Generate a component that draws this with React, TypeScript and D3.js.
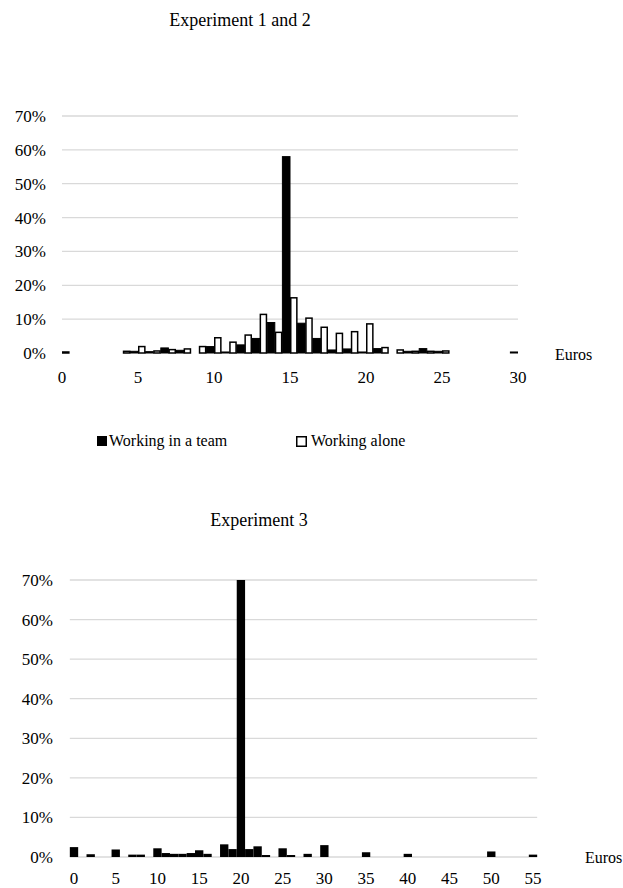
import React from "react";
import * as d3 from "d3";

// ---- Experiment 1 and 2 (percent of subjects per euro amount) ----
const exp12Euros = [0, 1, 2, 3, 4, 5, 6, 7, 8, 9, 10, 11, 12, 13, 14, 15, 16, 17, 18, 19, 20, 21, 22, 23, 24, 25, 26, 27, 28, 29, 30];
const teamPct = [0, 0, 0, 0, 0, 0.5, 0.4, 1.5, 0.8, 0, 1.9, 0.3, 2.4, 4.3, 9.0, 58, 8.8, 4.3, 0.9, 1.2, 0.3, 1.3, 0, 0.5, 1.3, 0.5, 0, 0, 0, 0, 0.3];
const alonePct = [0.3, 0, 0, 0, 0.5, 1.9, 0.6, 1.0, 1.2, 1.9, 4.5, 3.2, 5.3, 11.4, 6.1, 16.3, 10.3, 7.6, 5.8, 6.3, 8.6, 1.6, 0.9, 0.5, 0.5, 0.6, 0, 0, 0, 0, 0];
const exp12XTicks = [0, 5, 10, 15, 20, 25, 30];

// ---- Experiment 3 ----
const exp3Euros = [0, 2, 5, 7, 8, 10, 11, 12, 13, 14, 15, 16, 18, 19, 20, 21, 22, 23, 25, 26, 28, 30, 35, 40, 50, 55];
const exp3Pct = [2.5, 0.7, 1.9, 0.6, 0.6, 2.2, 1.0, 0.8, 0.8, 1.0, 1.7, 0.8, 3.2, 2.0, 70, 2.0, 2.7, 0.5, 2.2, 0.5, 0.8, 3.0, 1.2, 0.8, 1.4, 0.6];
const exp3XTicks = [0, 5, 10, 15, 20, 25, 30, 35, 40, 45, 50, 55];

const yTicks = [0, 10, 20, 30, 40, 50, 60, 70];

const FONT = "'Liberation Serif', 'DejaVu Serif', serif";
const GRID = "#d9d9d9";

export default function App() {
  // top chart scales
  const xT = d3.scaleLinear().domain([0, 30]).range([62, 518]);
  const yT = d3.scaleLinear().domain([0, 70]).range([353, 116]);
  const bwT = (xT(1) - xT(0)) / 2;

  // bottom chart scales
  const xB = d3.scaleLinear().domain([0, 55]).range([74, 533]);
  const yB = d3.scaleLinear().domain([0, 70]).range([857, 580]);
  const bwB = xB(1) - xB(0);

  const pctFmt = (v: number) => `${v}%`;
  const ts = { fontFamily: FONT };

  return (
    <svg width={623} height={888} style={{ position: "absolute", left: 0, top: 0, background: "#fff", fontFamily: FONT }}>
      <defs>
        <clipPath id="clipTop">
          <rect x={xT(0)} y={0} width={xT(30) - xT(0)} height={400} />
        </clipPath>
      </defs>

      {/* ===== Top chart ===== */}
      <text style={ts} x={240} y={26} fontSize={18} textAnchor="middle" fill="#000">Experiment 1 and 2</text>
      {yTicks.filter((t) => t > 0).map((t) => (
        <line key={"gt" + t} x1={xT(0)} x2={xT(30)} y1={yT(t)} y2={yT(t)} stroke={GRID} strokeWidth={1.3} />
      ))}
      {yTicks.map((t) => (
        <text style={ts} key={"yt" + t} x={46} y={yT(t) + 6} fontSize={17} textAnchor="end" fill="#000">{pctFmt(t)}</text>
      ))}
      <g clipPath="url(#clipTop)">
        {exp12Euros.map((e, i) =>
          teamPct[i] > 0 ? (
            <rect key={"tb" + e} x={xT(e) - bwT} y={yT(teamPct[i])} width={bwT} height={yT(0) - yT(teamPct[i])}
              fill="#000" stroke="#000" strokeWidth={1} />
          ) : null
        )}
        {exp12Euros.map((e, i) =>
          alonePct[i] > 0 ? (
            <rect key={"ab" + e} x={xT(e) + 0.75} y={yT(alonePct[i])} width={bwT - 1.5} height={yT(0) - yT(alonePct[i])}
              fill="#fff" stroke="#000" strokeWidth={1.5} />
          ) : null
        )}
      </g>
      {exp12XTicks.map((t) => (
        <text style={ts} key={"xt" + t} x={xT(t)} y={383} fontSize={17} textAnchor="middle" fill="#000">{t}</text>
      ))}
      <text style={ts} x={555} y={360} fontSize={16} fill="#000">Euros</text>

      {/* legend */}
      <rect x={97} y={436} width={10} height={10} fill="#000" />
      <text style={ts} x={109} y={446} fontSize={16} fill="#000">Working in a team</text>
      <rect x={296.75} y={436.75} width={9.5} height={9.5} fill="#fff" stroke="#000" strokeWidth={1.5} />
      <text style={ts} x={311} y={446} fontSize={16} fill="#000">Working alone</text>

      {/* ===== Bottom chart ===== */}
      <text style={ts} x={259} y={526} fontSize={18} textAnchor="middle" fill="#000">Experiment 3</text>
      {yTicks.map((t) => (
        <line key={"gb" + t} x1={xB(-0.5)} x2={xB(55.5)} y1={yB(t)} y2={yB(t)} stroke={GRID} strokeWidth={1.3} />
      ))}
      {yTicks.map((t) => (
        <text style={ts} key={"yb" + t} x={53} y={yB(t) + 6} fontSize={17} textAnchor="end" fill="#000">{pctFmt(t)}</text>
      ))}
      {exp3Euros.map((e, i) => (
        <rect key={"b3" + e} x={xB(e) - bwB / 2} y={yB(exp3Pct[i])} width={bwB} height={yB(0) - yB(exp3Pct[i])} fill="#000" />
      ))}
      {exp3XTicks.map((t) => (
        <text style={ts} key={"xb" + t} x={xB(t)} y={884} fontSize={17} textAnchor="middle" fill="#000">{t}</text>
      ))}
      <text style={ts} x={585} y={863} fontSize={16} fill="#000">Euros</text>
    </svg>
  );
}
